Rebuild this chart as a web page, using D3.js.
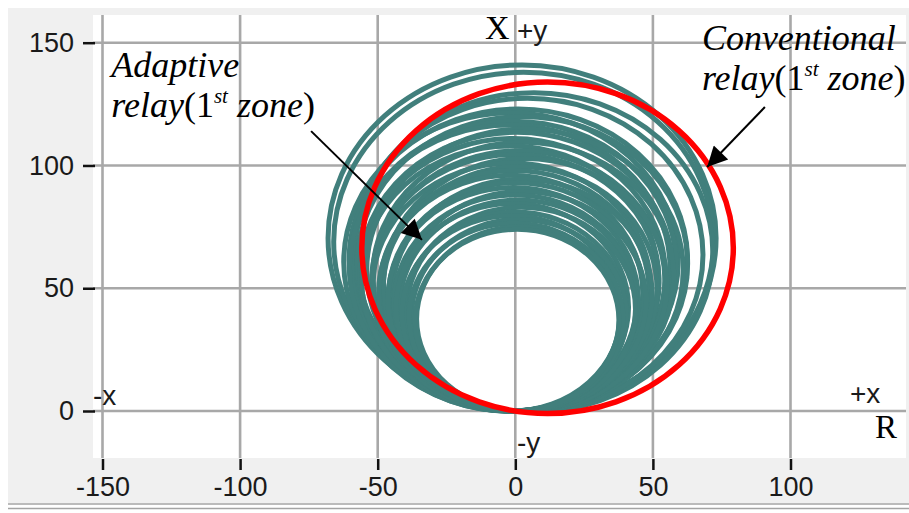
<!DOCTYPE html>
<html>
<head>
<meta charset="utf-8">
<script src="https://cdn.jsdelivr.net/npm/d3@7"></script>
<style>
  html, body { margin: 0; padding: 0; background: #fff; }
  svg { display: block; }
  .tick text { font-family: "Liberation Sans", Arial, sans-serif; font-size: 27px; fill: #1a1a1a; }
  .lbl { font-family: "Liberation Sans", Arial, sans-serif; font-size: 28px; fill: #1a1a1a; }
  .serif { font-family: "Liberation Serif", "Times New Roman", serif; fill: #000; }
</style>
</head>
<body>
<div id="viz"></div>
<script>
// axis ticks
const xTicks = [-150, -100, -50, 0, 50, 100];
const yTicks = [0, 50, 100, 150];

// conventional mho (1st zone): reach (ohm) and angle (deg)
const conventional = { reach: 135, angle: 80 };

// adaptive mho circles traced during the run: reach and angle of each
const adaptiveReach = [141, 138, 130, 127.5, 123, 121.5, 120, 118, 116.5, 115, 113.5, 111, 109.5, 108,
  106, 104.5, 103, 101, 99.5, 98, 96, 94.5, 93, 91, 89.5, 88, 86, 84.5, 83, 81, 79.5, 78, 76.5, 75, 74];
const adaptiveAngle = [88, 87.5, 84, 86, 89, 91.5, 87.5, 90.5, 92, 86.5, 89.5, 91, 87, 92,
  88.5, 90, 86, 91.5, 88, 90.5, 92, 87, 89.5, 91, 86.5, 90, 88.5, 91.5, 87, 90, 92, 88, 90.5, 87.5, 89];

const width = 909, height = 513;
const svg = d3.select('#viz').append('svg')
  .attr('width', width).attr('height', height)
  .attr('role', 'img')
  .attr('aria-label', 'R-X plane: adaptive and conventional relay 1st zone characteristics');

const x = d3.scaleLinear().domain([-150, 100]).range([102.5, 790.5]);
const y = d3.scaleLinear().domain([0, 150]).range([411, 42.7]);

const plot = { left: 93, right: 906, top: 15, bottom: 458 };

// frame
svg.append('rect').attr('x', 8).attr('y', 8).attr('width', width - 8).attr('height', 495).attr('fill', '#f0f0f0');
svg.append('rect').attr('x', plot.left).attr('y', plot.top)
  .attr('width', plot.right - plot.left).attr('height', plot.bottom - plot.top)
  .attr('fill', '#fff');
[504, 508.5].forEach(yy => svg.append('line').attr('x1', 8).attr('x2', width)
  .attr('y1', yy).attr('y2', yy).attr('stroke', '#a4a4a4').attr('stroke-width', 1.6));

// grid
const grid = svg.append('g').attr('stroke', '#a8a8a8').attr('stroke-width', 2.6);
grid.selectAll('line.v').data(xTicks).join('line').attr('class', 'v')
  .attr('x1', d => x(d)).attr('x2', d => x(d)).attr('y1', plot.top).attr('y2', plot.bottom);
grid.selectAll('line.h').data(yTicks).join('line').attr('class', 'h')
  .attr('y1', d => y(d)).attr('y2', d => y(d)).attr('x1', plot.left).attr('x2', plot.right);

// axes (plain hyphen minus, like the original)
const fmt = d => String(d);
const yAxis = svg.append('g').attr('transform', `translate(${plot.left + 2},0)`)
  .call(d3.axisLeft(y).tickValues(yTicks).tickFormat(fmt).tickSize(12).tickPadding(9));
const xAxis = svg.append('g').attr('transform', `translate(0,${plot.bottom + 1})`)
  .call(d3.axisBottom(x).tickValues(xTicks).tickFormat(fmt).tickSize(11).tickPadding(7));
[yAxis, xAxis].forEach(a => {
  a.select('.domain').remove();
  a.selectAll('.tick line').attr('stroke', '#111').attr('stroke-width', 2.5);
});

// mho circle through origin -> ellipse in pixel space
function mho(reach, angle) {
  const r = reach / 2, a = angle * Math.PI / 180;
  const cx = r * Math.cos(a), cy = r * Math.sin(a);
  return { cx: x(cx), cy: y(cy), rx: x(cx + r) - x(cx), ry: y(cy) - y(cy + r) };
}

const adaptive = adaptiveReach.map((d, i) => mho(d, adaptiveAngle[i]));
svg.append('g').selectAll('ellipse').data(adaptive).join('ellipse')
  .attr('cx', d => d.cx).attr('cy', d => d.cy).attr('rx', d => d.rx).attr('ry', d => d.ry)
  .attr('fill', 'none').attr('stroke', '#417f7c').attr('stroke-width', 5);

const conv = mho(conventional.reach, conventional.angle);
svg.append('ellipse')
  .attr('cx', conv.cx).attr('cy', conv.cy).attr('rx', conv.rx).attr('ry', conv.ry)
  .attr('fill', 'none').attr('stroke', '#ff0000').attr('stroke-width', 5.5);

// axis direction labels
svg.append('text').attr('class', 'lbl').attr('x', 93).attr('y', 405).text('-x');
svg.append('text').attr('class', 'lbl').attr('x', 850).attr('y', 403).text('+x');
svg.append('text').attr('class', 'lbl').attr('x', 517).attr('y', 40).text('+y');
svg.append('text').attr('class', 'lbl').attr('x', 517).attr('y', 452).text('-y');
svg.append('text').attr('class', 'serif').attr('x', 875).attr('y', 438).attr('font-size', 33).text('R');
svg.append('text').attr('class', 'serif').attr('x', 485).attr('y', 39).attr('font-size', 34).text('X');

// annotations
svg.append('defs').append('marker').attr('id', 'head')
  .attr('viewBox', '0 0 10 10').attr('refX', 10).attr('refY', 5)
  .attr('markerWidth', 26).attr('markerHeight', 20).attr('markerUnits', 'userSpaceOnUse')
  .attr('orient', 'auto')
  .append('path').attr('d', 'M0,0 L10,5 L0,10 Z').attr('fill', '#000');

const notes = [
  { x: -146.8, y: 136, tip: [-33.9, 69.7], from: [-74.2, 114], first: 'Adaptive' },
  { x: 67.8, y: 147, tip: [69.7, 99.4], from: [90.7, 123.8], first: 'Conventional' }
];
notes.forEach(n => {
  svg.append('line').attr('x1', x(n.from[0])).attr('y1', y(n.from[1]))
    .attr('x2', x(n.tip[0])).attr('y2', y(n.tip[1]))
    .attr('stroke', '#000').attr('stroke-width', 2).attr('marker-end', 'url(#head)');
  const t = svg.append('text').attr('class', 'serif').attr('font-size', 36)
    .attr('x', x(n.x)).attr('y', y(n.y));
  t.append('tspan').attr('font-style', 'italic').text(n.first);
  const t2 = svg.append('text').attr('class', 'serif').attr('font-size', 36)
    .attr('x', x(n.x)).attr('y', y(n.y) + 40);
  t2.append('tspan').attr('font-style', 'italic').text('relay');
  t2.append('tspan').text('(1');
  t2.append('tspan').attr('font-style', 'italic').attr('font-size', 21).attr('dy', -14).text('st');
  t2.append('tspan').attr('font-style', 'italic').attr('dy', 14).text(' zone');
  t2.append('tspan').text(')');
});
</script>
</body>
</html>
